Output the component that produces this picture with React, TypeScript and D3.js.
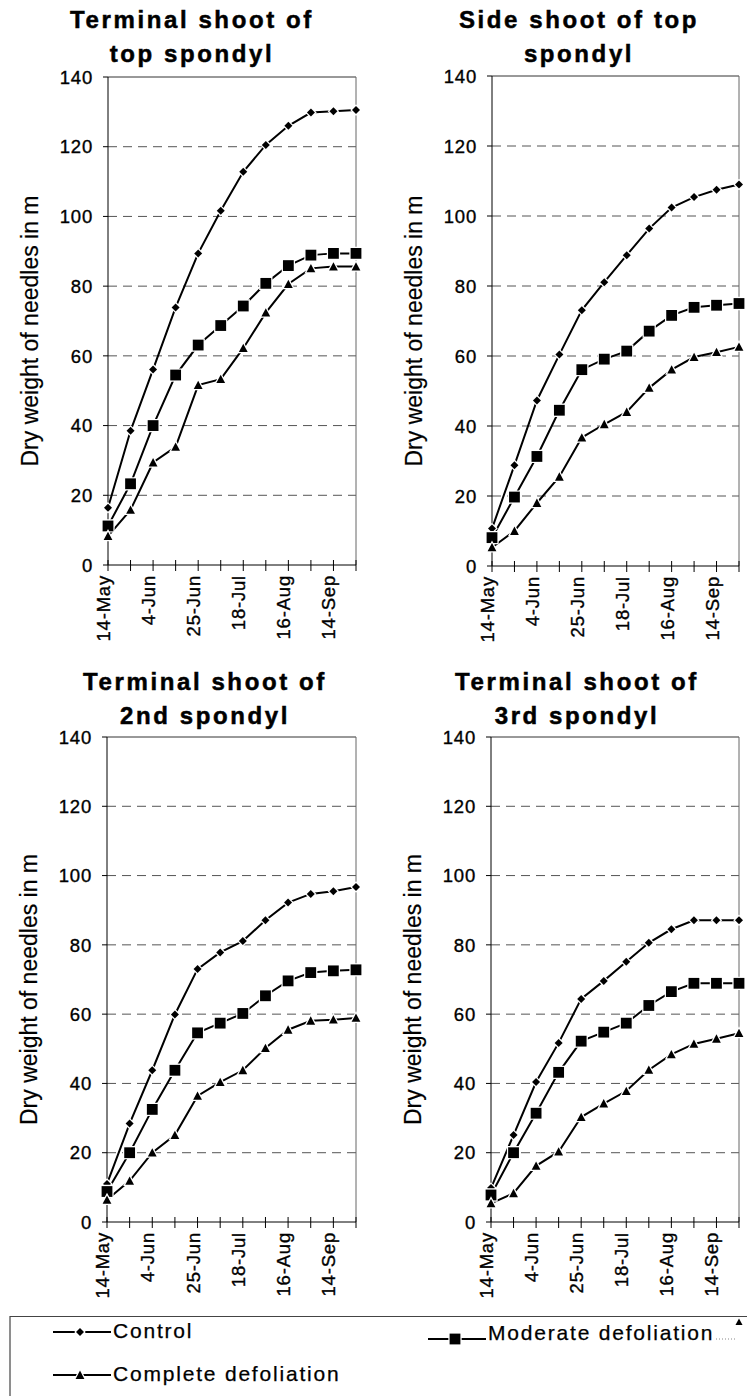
import React from 'react';
import * as d3 from 'd3';

const FONT = "'Liberation Sans', Arial, Helvetica, sans-serif";

// 12 sampling occasions; only every second one is labelled
const xTickLabels = ['14-May', '', '4-Jun', '', '25-Jun', '', '18-Jul', '', '16-Aug', '', '14-Sep', ''];
const yTicks = [0, 20, 40, 60, 80, 100, 120, 140];

const seriesNames = ['Control', 'Moderate defoliation', 'Complete defoliation'];

// Terminal shoot of top spondyl
const tlControl = [16.4, 38.5, 56.1, 73.9, 89.4, 101.6, 112.8, 120.5, 126.0, 129.8, 130.2, 130.5];
const tlModerate = [11.2, 23.3, 40.0, 54.5, 63.1, 68.7, 74.3, 80.8, 85.9, 88.9, 89.4, 89.4];
const tlComplete = [8.3, 15.8, 29.4, 33.9, 51.6, 53.3, 62.2, 72.4, 80.6, 85.1, 85.6, 85.6];

// Side shoot of top spondyl
const trControl = [10.7, 28.8, 47.3, 60.4, 73.1, 81.1, 88.8, 96.4, 102.4, 105.4, 107.5, 109.0];
const trModerate = [8.1, 19.7, 31.3, 44.5, 56.1, 59.1, 61.4, 67.1, 71.6, 73.9, 74.5, 75.0];
const trComplete = [5.3, 10.0, 18.0, 25.5, 36.7, 40.5, 44.0, 50.9, 56.1, 59.7, 61.1, 62.6];

// Terminal shoot of 2nd spondyl
const blControl = [11.0, 28.4, 43.8, 59.9, 73.0, 77.8, 81.1, 87.1, 92.2, 94.7, 95.5, 96.7];
const blModerate = [8.8, 20.0, 32.5, 43.8, 54.6, 57.4, 60.2, 65.3, 69.6, 72.0, 72.5, 72.8];
const blComplete = [6.4, 11.9, 20.0, 25.1, 36.4, 40.4, 43.8, 50.2, 55.5, 58.1, 58.4, 58.9];

// Terminal shoot of 3rd spondyl
const brControl = [9.8, 25.1, 40.4, 51.7, 64.4, 69.6, 75.1, 80.6, 84.5, 87.1, 87.1, 87.1];
const brModerate = [7.8, 20.0, 31.4, 43.2, 52.2, 54.8, 57.4, 62.5, 66.5, 68.9, 68.9, 68.9];
const brComplete = [5.4, 8.3, 16.2, 20.3, 30.3, 34.2, 37.8, 43.9, 48.4, 51.4, 52.9, 54.5];

const panels = [
  { title: ['Terminal shoot of', 'top spondyl'], series: [tlControl, tlModerate, tlComplete],
    left: 108, right: 356, top: 77, bottom: 565, titleX: 192, titleY: 28 },
  { title: ['Side shoot of top', 'spondyl'], series: [trControl, trModerate, trComplete],
    left: 492, right: 739, top: 76, bottom: 566, titleX: 579, titleY: 28 },
  { title: ['Terminal shoot of', '2nd spondyl'], series: [blControl, blModerate, blComplete],
    left: 107, right: 356, top: 737, bottom: 1222, titleX: 205, titleY: 690 },
  { title: ['Terminal shoot of', '3rd spondyl'], series: [brControl, brModerate, brComplete],
    left: 491, right: 739, top: 737, bottom: 1222, titleX: 577, titleY: 690 },
];

function marker(kind: number, cx: number, cy: number) {
  if (kind === 0) {
    const r = 4;
    return `M${cx},${cy - r}L${cx + r},${cy}L${cx},${cy + r}L${cx - r},${cy}Z`;
  }
  if (kind === 1) {
    const h = 5.4;
    return `M${cx - h},${cy - h}H${cx + h}V${cy + h}H${cx - h}Z`;
  }
  const w = 4.4, hh = 3.9;
  return `M${cx},${cy - hh - 0.5}L${cx + w},${cy + hh}L${cx - w},${cy + hh}Z`;
}

function Marker({ kind, cx, cy }: { kind: number; cx: number; cy: number }) {
  return (
    <path d={marker(kind, cx, cy)} fill="#000" stroke="#fff" strokeWidth={2.5}
      style={{ paintOrder: 'stroke' } as any} />
  );
}

const textInk = { stroke: '#000', strokeWidth: 0.35 };

function Panel({ p }: { p: typeof panels[number] }) {
  const idx = d3.range(xTickLabels.length);
  const x = d3.scalePoint<number>().domain(idx).range([p.left, p.right]).padding(0);
  const y = d3.scaleLinear().domain([0, 140]).range([p.bottom, p.top]);
  const line = d3.line<number>().x((_, i) => x(i)!).y((d) => y(d));
  const midY = (p.top + p.bottom) / 2 + 10;
  return (
    <g>
      <text x={p.titleX} y={p.titleY} textAnchor="middle" fontFamily={FONT} fontWeight="bold"
        fontSize={24} letterSpacing={2.6} fill="#000" stroke="#000" strokeWidth={0.5}>{p.title[0]}</text>
      <text x={p.titleX} y={p.titleY + 34} textAnchor="middle" fontFamily={FONT} fontWeight="bold"
        fontSize={24} letterSpacing={2.6} fill="#000" stroke="#000" strokeWidth={0.5}>{p.title[1]}</text>

      {/* grid lines */}
      {yTicks.filter((t) => t > 0 && t < 140).map((t) => (
        <line key={t} x1={p.left} x2={p.right} y1={y(t)} y2={y(t)} stroke="#555"
          strokeWidth={1} strokeDasharray="9,6" />
      ))}
      {/* frame */}
      <line x1={p.left} x2={p.right} y1={y(140)} y2={y(140)} stroke="#333" strokeWidth={1} />
      <line x1={p.right} x2={p.right} y1={y(140)} y2={y(0)} stroke="#666" strokeWidth={1} />
      {/* y axis */}
      <line x1={p.left} x2={p.left} y1={y(140)} y2={y(0)} stroke="#000" strokeWidth={1} />
      {yTicks.map((t) => (
        <g key={t}>
          <line x1={p.left - 5} x2={p.left} y1={y(t)} y2={y(t)} stroke="#000" strokeWidth={1} />
          <text x={p.left - 15} y={y(t)} dy="0.36em" textAnchor="end" fontFamily={FONT}
            fontSize={18.5} letterSpacing={0.8} fill="#000" {...textInk}>{t}</text>
        </g>
      ))}
      <text transform={`translate(${p.left - 70},${midY}) rotate(-90)`} textAnchor="middle"
        fontFamily={FONT} fontSize={23} fill="#000" stroke="#000" strokeWidth={0.2}>Dry weight of needles in m</text>
      {/* x axis */}
      <line x1={p.left} x2={p.right} y1={y(0)} y2={y(0)} stroke="#000" strokeWidth={1} />
      {idx.map((i) => (
        <g key={i}>
          <line x1={x(i)} x2={x(i)} y1={y(0) - 5} y2={y(0) + 6} stroke="#000" strokeWidth={1} />
          {xTickLabels[i] && (
            <text transform={`translate(${x(i)! + 2},${y(0) + 10}) rotate(-90)`} textAnchor="end"
              fontFamily={FONT} fontSize={18.5} letterSpacing={0.8} fill="#000" {...textInk}>{xTickLabels[i]}</text>
          )}
        </g>
      ))}
      {/* series */}
      {p.series.map((s, k) => (
        <path key={k} d={line(s)!} fill="none" stroke="#000" strokeWidth={2} />
      ))}
      {p.series.map((s, k) =>
        s.map((v, i) => <Marker key={`${k}-${i}`} kind={k} cx={x(i)!} cy={y(v)} />)
      )}
    </g>
  );
}

const legendItems = [
  { kind: 0, x: 53, y: 1332, textY: 1338 },
  { kind: 1, x: 428, y: 1339, textY: 1340 },
  { kind: 2, x: 53, y: 1375, textY: 1381 },
];

export default function App() {
  return (
    <svg width={747} height={1396} viewBox="0 0 747 1396"
      style={{ position: 'absolute', left: 0, top: 0, display: 'block', background: '#fff' }}>
      <rect x={0} y={0} width={747} height={1396} fill="#fff" />
      {panels.map((p, i) => <Panel key={i} p={p} />)}
      {/* legend */}
      <path d="M10,1396V1316.5H747" fill="none" stroke="#444" strokeWidth={1.2} />
      {legendItems.map((it, i) => (
        <g key={i}>
          <line x1={it.x} x2={it.x + 58} y1={it.y} y2={it.y} stroke="#000" strokeWidth={2} />
          <Marker kind={it.kind} cx={it.x + 27} cy={it.y} />
          <text x={it.x + 60} y={it.textY} fontFamily={FONT} fontSize={21} letterSpacing={1.8}
            fill="#000" stroke="#000" strokeWidth={0.25}>{seriesNames[it.kind]}</text>
        </g>
      ))}
      <line x1={716} x2={735} y1={1339} y2={1339} stroke="#888" strokeWidth={1} strokeDasharray="1,2" />
      <path d={marker(2, 739, 1322)} fill="#000" transform="translate(739,1322) scale(0.8) translate(-739,-1322)" />
    </svg>
  );
}
